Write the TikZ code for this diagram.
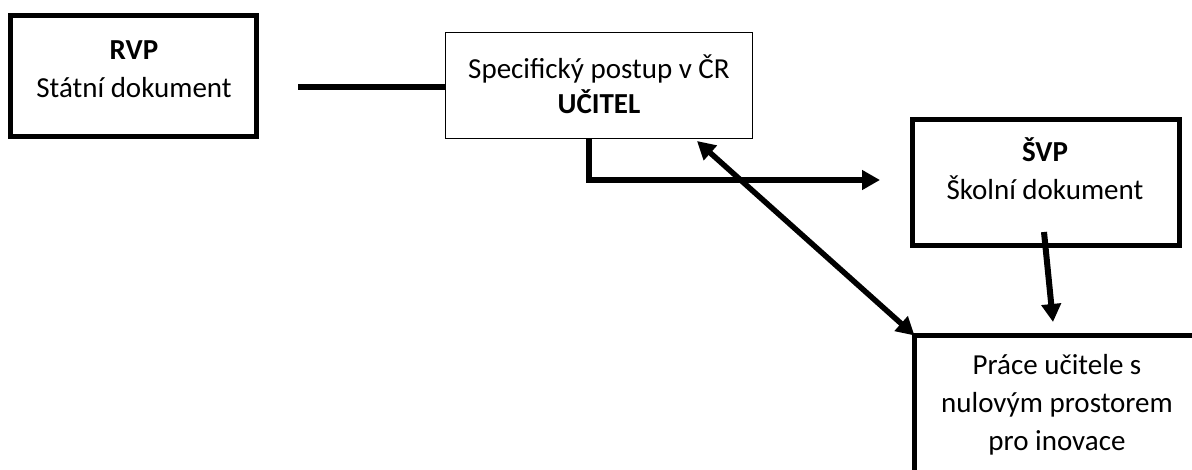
\documentclass[tikz,border=0pt]{standalone}
\usepackage{fontspec}
\setmainfont{Carlito}
\usetikzlibrary{arrows.meta}
\begin{document}
\begin{tikzpicture}[x=1pt,y=-1pt,
  thickbox/.style={draw=black, line width=5pt, outer sep=0pt, inner sep=0pt},
  thinbox/.style={draw=black, line width=1.2pt, outer sep=0pt, inner sep=0pt},
  txt/.style={align=center, inner sep=0pt, outer sep=0pt, font=\fontsize{29}{38}\selectfont},
  txtb/.style={align=center, inner sep=0pt, outer sep=0pt, font=\fontsize{29}{35}\selectfont},
  conn/.style={line width=6pt, line join=miter},
  tip/.style={-{Triangle[length=18pt,width=19pt]}},
  tips/.style={{Triangle[length=18pt,width=19pt]}-{Triangle[length=18pt,width=19pt]}}]
\useasboundingbox (0,0) rectangle (1192,469);
\clip (0,0) rectangle (1192,469);
% boxes
\node[thickbox, minimum width=246pt, minimum height=121pt] (rvp) at (133.5,76) {};
\node[txt] (rvpt) at (134,69) {\textbf{RVP}\\Státní dokument};
\node[thinbox, minimum width=307pt, minimum height=106pt] (ucitel) at (599,85.5) {};
\node[txtb] (ucitelt) at (599,84.5) {Specifický postup v ČR\\\textbf{UČITEL}};
\node[thickbox, minimum width=267pt, minimum height=126pt] (svp) at (1046,182.5) {};
\node[txt] (svpt) at (1045,169) {\textbf{ŠVP}\\Školní dokument};
\node[thickbox, minimum width=285pt, minimum height=139pt] (prace) at (1057,405) {};
\node[txt] (pracet) at (1057,405) {Práce učitele s\\nulovým prostorem\\pro inovace};
% connectors
\coordinate (c1) at (298,87);
\draw[conn] (c1) -- (c1 -| ucitel.west);
\coordinate (e1) at (589,180);
\coordinate (e2) at (880,180);
\draw[conn, tip] (e1 |- ucitel.south) -- (e1) -- (e2);
\coordinate (s1) at (1044,232);
\coordinate (s2) at (1053,322);
\draw[conn, tip] (s1) -- (s2);
\coordinate (d1) at (697,141);
\draw[conn, line width=5.5pt, tips] (d1) -- (prace.north west);
\end{tikzpicture}
\end{document}
